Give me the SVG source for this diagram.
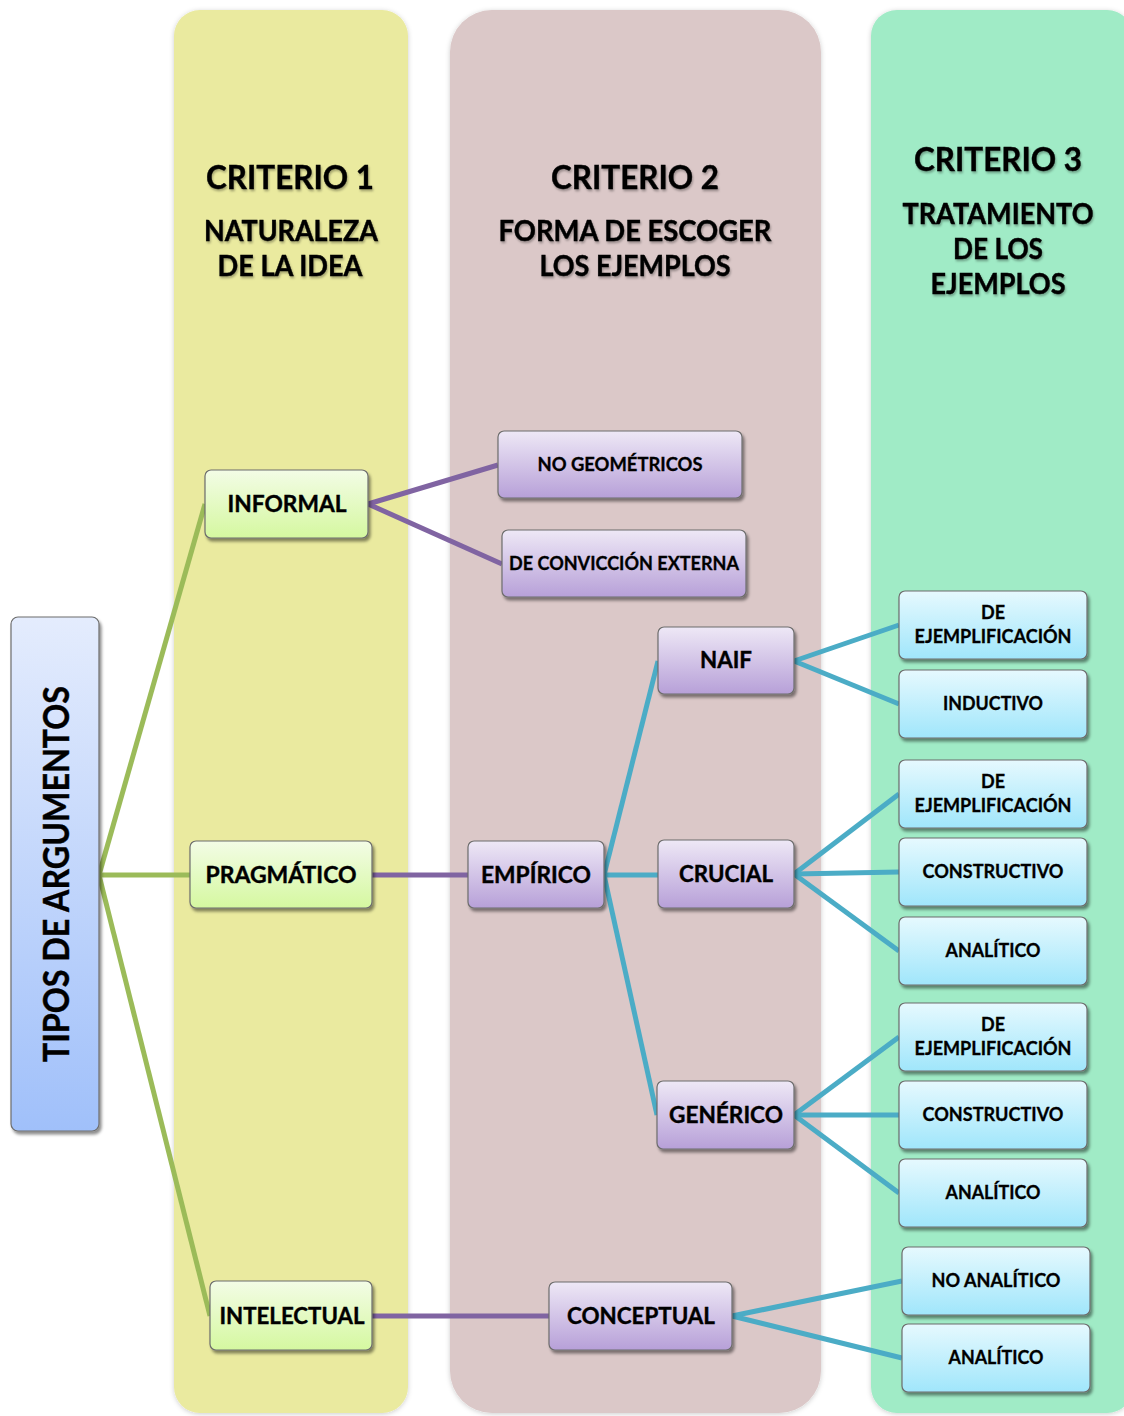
<svg xmlns="http://www.w3.org/2000/svg" width="1124" height="1416" viewBox="0 0 1124 1416">
  <defs>
    <linearGradient id="gGreen" x1="0" y1="0" x2="0" y2="1">
      <stop offset="0" stop-color="#f3fce6"/>
      <stop offset="1" stop-color="#d5f8a0"/>
    </linearGradient>
    <linearGradient id="gPurple" x1="0" y1="0" x2="0" y2="1">
      <stop offset="0" stop-color="#eee8f6"/>
      <stop offset="1" stop-color="#b7a0d8"/>
    </linearGradient>
    <linearGradient id="gBlue" x1="0" y1="0" x2="0" y2="1">
      <stop offset="0" stop-color="#e6f9fe"/>
      <stop offset="1" stop-color="#a0e6fb"/>
    </linearGradient>
    <linearGradient id="gRoot" x1="0" y1="0" x2="0" y2="1">
      <stop offset="0" stop-color="#e4ecfd"/>
      <stop offset="1" stop-color="#a0c0fa"/>
    </linearGradient>
    <filter id="boxShadow" x="-10%" y="-10%" width="130%" height="140%">
      <feDropShadow dx="2" dy="3" stdDeviation="1.8" flood-color="#000" flood-opacity="0.45"/>
    </filter>
    <filter id="colShadow" x="-5%" y="-5%" width="110%" height="110%">
      <feDropShadow dx="0" dy="1" stdDeviation="2.5" flood-color="#000" flood-opacity="0.2"/>
    </filter>
    <filter id="txtShadow" x="-5%" y="-20%" width="110%" height="150%">
      <feDropShadow dx="1" dy="2" stdDeviation="1.2" flood-color="#000" flood-opacity="0.3"/>
    </filter>
  </defs>
  <style>
    text { font-family: Lato, "Open Sans", "Liberation Sans", sans-serif; font-weight: 700; fill: #000; stroke: #000; stroke-width: 0.4; text-anchor: middle; }
    .hd { font-size: 33px; filter: url(#txtShadow); }
    .sub { font-size: 28px; filter: url(#txtShadow); }
    .big { font-size: 23px; }
    .sm { font-size: 18px; stroke-width: 0.3; }
    .node rect { stroke: #6d6d6d; stroke-width: 1.2; filter: url(#boxShadow); }
    .c1 rect { fill: url(#gGreen); }
    .c2 rect { fill: url(#gPurple); }
    .c3 rect { fill: url(#gBlue); }
    .links line { stroke-width: 5; stroke-linecap: butt; }
    .lg { stroke: #9bbb59; }
    .lp { stroke: #8064a2; }
    .lb { stroke: #4bacc6; }
  </style>

  <!-- background columns -->
  <g id="columns" filter="url(#colShadow)">
    <rect id="col1" x="174" y="10" width="234" height="1403" rx="26" fill="#eaea9f"/>
    <rect id="col2" x="450" y="10" width="371" height="1403" rx="42" fill="#dbc8c8"/>
    <rect id="col3" x="871" y="10" width="262" height="1403" rx="26" fill="#a0ebc6"/>
  </g>

  <!-- column headings -->
  <g id="head1">
    <text class="hd" x="290" y="189" textLength="168" lengthAdjust="spacingAndGlyphs">CRITERIO 1</text>
    <text class="sub" x="291" y="241" textLength="174" lengthAdjust="spacingAndGlyphs">NATURALEZA</text>
    <text class="sub" x="290" y="276" textLength="145" lengthAdjust="spacingAndGlyphs">DE LA IDEA</text>
  </g>
  <g id="head2">
    <text class="hd" x="635" y="189" textLength="168" lengthAdjust="spacingAndGlyphs">CRITERIO 2</text>
    <text class="sub" x="635" y="241" textLength="273" lengthAdjust="spacingAndGlyphs">FORMA DE ESCOGER</text>
    <text class="sub" x="635" y="276" textLength="191" lengthAdjust="spacingAndGlyphs">LOS EJEMPLOS</text>
  </g>
  <g id="head3">
    <text class="hd" x="998" y="171" textLength="168" lengthAdjust="spacingAndGlyphs">CRITERIO 3</text>
    <text class="sub" x="998" y="224" textLength="191" lengthAdjust="spacingAndGlyphs">TRATAMIENTO</text>
    <text class="sub" x="998" y="259" textLength="90" lengthAdjust="spacingAndGlyphs">DE LOS</text>
    <text class="sub" x="998" y="294" textLength="135" lengthAdjust="spacingAndGlyphs">EJEMPLOS</text>
  </g>

  <!-- connectors -->
  <g id="connectors" class="links">
    <line class="lg" x1="99" y1="875" x2="205" y2="504"/>
    <line class="lg" x1="99" y1="875" x2="190" y2="875"/>
    <line class="lg" x1="99" y1="875" x2="210" y2="1316"/>
    <line class="lp" x1="368" y1="504" x2="498" y2="465"/>
    <line class="lp" x1="368" y1="504" x2="502" y2="564"/>
    <line class="lp" x1="372" y1="875" x2="468" y2="875"/>
    <line class="lp" x1="372" y1="1316" x2="549" y2="1316"/>
    <line class="lb" x1="604" y1="875" x2="658" y2="661"/>
    <line class="lb" x1="604" y1="875" x2="658" y2="875"/>
    <line class="lb" x1="604" y1="875" x2="657" y2="1115"/>
    <line class="lb" x1="794" y1="661" x2="899" y2="625"/>
    <line class="lb" x1="794" y1="661" x2="899" y2="704"/>
    <line class="lb" x1="794" y1="874" x2="899" y2="794"/>
    <line class="lb" x1="794" y1="874" x2="899" y2="872"/>
    <line class="lb" x1="794" y1="874" x2="899" y2="951"/>
    <line class="lb" x1="794" y1="1115" x2="899" y2="1037"/>
    <line class="lb" x1="794" y1="1115" x2="899" y2="1115"/>
    <line class="lb" x1="794" y1="1115" x2="899" y2="1193"/>
    <line class="lb" x1="732" y1="1316" x2="902" y2="1281"/>
    <line class="lb" x1="732" y1="1316" x2="902" y2="1358"/>
  </g>

  <!-- root -->
  <g id="root" class="node">
    <rect x="11" y="617" width="88" height="514" rx="7" fill="url(#gRoot)"/>
    <text transform="translate(69 874) rotate(-90)" x="0" y="0" font-size="36" textLength="376" lengthAdjust="spacingAndGlyphs">TIPOS DE ARGUMENTOS</text>
  </g>

  <!-- criterion 1 -->
  <g id="informal" class="node c1">
    <rect x="205" y="470" width="163" height="68" rx="6"/>
    <text class="big" x="287" y="512" textLength="119" lengthAdjust="spacingAndGlyphs">INFORMAL</text>
  </g>
  <g id="pragmatico" class="node c1">
    <rect x="190" y="841" width="182" height="67" rx="6"/>
    <text class="big" x="281" y="883" textLength="151" lengthAdjust="spacingAndGlyphs">PRAGMÁTICO</text>
  </g>
  <g id="intelectual" class="node c1">
    <rect x="210" y="1281" width="162" height="69" rx="6"/>
    <text class="big" x="292" y="1324" textLength="145" lengthAdjust="spacingAndGlyphs">INTELECTUAL</text>
  </g>

  <!-- criterion 2 -->
  <g id="no-geometricos" class="node c2">
    <rect x="498" y="431" width="244" height="67" rx="6"/>
    <text class="sm" x="620" y="471" textLength="165" lengthAdjust="spacingAndGlyphs">NO GEOMÉTRICOS</text>
  </g>
  <g id="conviccion-externa" class="node c2">
    <rect x="502" y="530" width="244" height="67" rx="6"/>
    <text class="sm" x="624" y="570" textLength="230" lengthAdjust="spacingAndGlyphs">DE CONVICCIÓN EXTERNA</text>
  </g>
  <g id="naif" class="node c2">
    <rect x="658" y="627" width="136" height="67" rx="6"/>
    <text class="big" x="726" y="668" textLength="52" lengthAdjust="spacingAndGlyphs">NAIF</text>
  </g>
  <g id="empirico" class="node c2">
    <rect x="468" y="841" width="136" height="67" rx="6"/>
    <text class="big" x="536" y="883" textLength="110" lengthAdjust="spacingAndGlyphs">EMPÍRICO</text>
  </g>
  <g id="crucial" class="node c2">
    <rect x="658" y="840" width="136" height="68" rx="6"/>
    <text class="big" x="726" y="882" textLength="94" lengthAdjust="spacingAndGlyphs">CRUCIAL</text>
  </g>
  <g id="generico" class="node c2">
    <rect x="657" y="1081" width="137" height="68" rx="6"/>
    <text class="big" x="726" y="1123" textLength="114" lengthAdjust="spacingAndGlyphs">GENÉRICO</text>
  </g>
  <g id="conceptual" class="node c2">
    <rect x="549" y="1282" width="183" height="68" rx="6"/>
    <text class="big" x="641" y="1324" textLength="148" lengthAdjust="spacingAndGlyphs">CONCEPTUAL</text>
  </g>

  <!-- criterion 3 -->
  <g id="naif-ejemplificacion" class="node c3">
    <rect x="899" y="591" width="188" height="68" rx="6"/>
    <text class="sm" x="993" y="619">DE</text>
    <text class="sm" x="993" y="643" textLength="157" lengthAdjust="spacingAndGlyphs">EJEMPLIFICACIÓN</text>
  </g>
  <g id="naif-inductivo" class="node c3">
    <rect x="899" y="670" width="188" height="68" rx="6"/>
    <text class="sm" x="993" y="710" textLength="100" lengthAdjust="spacingAndGlyphs">INDUCTIVO</text>
  </g>
  <g id="crucial-ejemplificacion" class="node c3">
    <rect x="899" y="760" width="188" height="68" rx="6"/>
    <text class="sm" x="993" y="788">DE</text>
    <text class="sm" x="993" y="812" textLength="157" lengthAdjust="spacingAndGlyphs">EJEMPLIFICACIÓN</text>
  </g>
  <g id="crucial-constructivo" class="node c3">
    <rect x="899" y="838" width="188" height="68" rx="6"/>
    <text class="sm" x="993" y="878" textLength="141" lengthAdjust="spacingAndGlyphs">CONSTRUCTIVO</text>
  </g>
  <g id="crucial-analitico" class="node c3">
    <rect x="899" y="917" width="188" height="68" rx="6"/>
    <text class="sm" x="993" y="957" textLength="95" lengthAdjust="spacingAndGlyphs">ANALÍTICO</text>
  </g>
  <g id="generico-ejemplificacion" class="node c3">
    <rect x="899" y="1003" width="188" height="68" rx="6"/>
    <text class="sm" x="993" y="1031">DE</text>
    <text class="sm" x="993" y="1055" textLength="157" lengthAdjust="spacingAndGlyphs">EJEMPLIFICACIÓN</text>
  </g>
  <g id="generico-constructivo" class="node c3">
    <rect x="899" y="1081" width="188" height="68" rx="6"/>
    <text class="sm" x="993" y="1121" textLength="141" lengthAdjust="spacingAndGlyphs">CONSTRUCTIVO</text>
  </g>
  <g id="generico-analitico" class="node c3">
    <rect x="899" y="1159" width="188" height="68" rx="6"/>
    <text class="sm" x="993" y="1199" textLength="95" lengthAdjust="spacingAndGlyphs">ANALÍTICO</text>
  </g>
  <g id="conceptual-no-analitico" class="node c3">
    <rect x="902" y="1247" width="188" height="68" rx="6"/>
    <text class="sm" x="996" y="1287" textLength="129" lengthAdjust="spacingAndGlyphs">NO ANALÍTICO</text>
  </g>
  <g id="conceptual-analitico" class="node c3">
    <rect x="902" y="1324" width="188" height="68" rx="6"/>
    <text class="sm" x="996" y="1364" textLength="95" lengthAdjust="spacingAndGlyphs">ANALÍTICO</text>
  </g>
</svg>
